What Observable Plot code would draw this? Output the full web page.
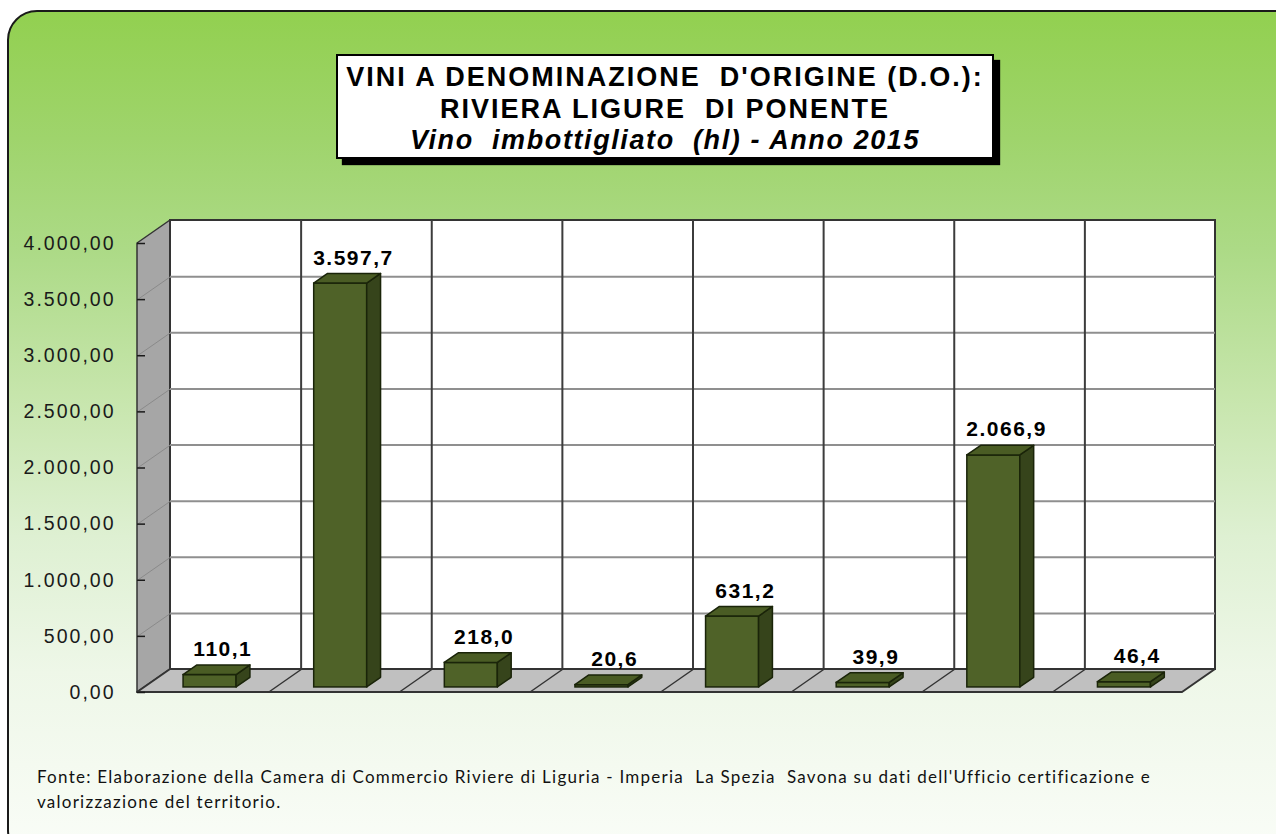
<!DOCTYPE html>
<html>
<head>
<meta charset="utf-8">
<script src="https://cdn.jsdelivr.net/npm/d3@7"></script>
<script src="https://cdn.jsdelivr.net/npm/@observablehq/plot@0.6"></script>
<style>
  html, body { margin: 0; padding: 0; background: #ffffff; }
  body { width: 1276px; height: 834px; overflow: hidden; position: relative; font-family: "Liberation Sans", Arial, sans-serif; }
  #card {
    position: absolute; left: 7px; top: 10px; width: 1300px; height: 850px; box-sizing: border-box;
    border: 2px solid #1a1a1a; border-radius: 30px;
    background: linear-gradient(to bottom, #92d050 0%, #9fd46c 15%, #acda86 28%, #c6e5ab 45%, #def0d2 62%, #eef7e8 78%, #fafdf8 100%);
  }
  #title {
    position: absolute; left: 336px; top: 54px; width: 658px; height: 105px; box-sizing: border-box;
    border: 2px solid #000; background: #fff; box-shadow: 6px 6px 1px #000;
    text-align: center; font-weight: bold; font-size: 27px; line-height: 31.5px; padding-top: 6px;
    color: #000; letter-spacing: 2px; white-space: nowrap;
  }
  #title .sub { font-style: italic; letter-spacing: 1.6px; }
  #chart { position: absolute; left: 0; top: 200px; }
  #caption {
    position: absolute; left: 37px; top: 764px; font-family: Lato, "Open Sans", sans-serif; font-size: 17px;
    line-height: 25px; color: #111; white-space: nowrap; letter-spacing: 1.25px;
  }
  #chart g[aria-label="y-axis tick label"] text { letter-spacing: 2px; }
  #chart g[aria-label="text"] text { letter-spacing: 1.5px; }
</style>
</head>
<body>
<div id="card"></div>
<div id="title">VINI A DENOMINAZIONE&nbsp; D'ORIGINE (D.O.):<br>RIVIERA LIGURE&nbsp; DI PONENTE<br><span class="sub">Vino&nbsp; imbottigliato&nbsp; (hl) - Anno 2015</span></div>
<div id="chart"></div>
<div id="caption">Fonte: Elaborazione della Camera di Commercio Riviere di Liguria - Imperia&nbsp; La Spezia&nbsp; Savona su dati dell'Ufficio certificazione e<br>valorizzazione del territorio.</div>
<script>
// ---- data ----
const categories = ["1", "2", "3", "4", "5", "6", "7", "8"];
const values = [110.1, 3597.7, 218.0, 20.6, 631.2, 39.9, 2066.9, 46.4];
const yTicks = [0, 500, 1000, 1500, 2000, 2500, 3000, 3500, 4000];

// ---- layout / style constants ----
const W = 1276, H = 520, mL = 137, mR = 94, mT = 43, mB = 28;
const yMax = 4000;
const n = categories.length;
const pxX = (W - mL - mR) / n;       // pixels per category
const pxY = (H - mT - mB) / yMax;    // pixels per unit
const dX = 33 / pxX, dY = 23 / pxY;  // wall depth in data units
const fX = 0.22 * dX, fY = 0.22 * dY; // bar front offset
const bX = 0.42 * dX, bY = 0.42 * dY; // bar depth
const BW = 53 / pxX;                  // bar width

const it = d3.formatLocale({decimal: ",", thousands: ".", grouping: [3], currency: ["€", ""]});
const fmt1 = it.format(",.1f");
const fmt2 = it.format(",.2f");

const bars = values.map((v, i) => ({
  i, v,
  x1: i + 0.5 - BW / 2 + fX, x2: i + 0.5 + BW / 2 + fX,
  y0: fY, y1: v + fY
}));
const sides = bars.flatMap(b => [
  {i: b.i, x: b.x2, y1: b.y0, y2: b.y1},
  {i: b.i, x: b.x2 + bX, y1: b.y0 + bY, y2: b.y1 + bY}
]);
const tops = bars.flatMap(b => [
  {i: b.i, y: b.y1, x1: b.x1, x2: b.x2},
  {i: b.i, y: b.y1 + bY, x1: b.x1 + bX, x2: b.x2 + bX}
]);

const inner = d3.range(1, n);

const chart = Plot.plot({
  width: W, height: H,
  marginLeft: mL, marginRight: mR, marginTop: mT, marginBottom: mB,
  x: {domain: [0, n], axis: null},
  y: {domain: [0, yMax], axis: null},
  style: {fontFamily: "'Liberation Sans', Arial, sans-serif", fontSize: "19.5px", background: "transparent", overflow: "visible"},
  marks: [
    // left side wall
    Plot.areaY([{x: 0, y1: 0, y2: yMax}, {x: dX, y1: dY, y2: yMax + dY}],
      {x: "x", y1: "y1", y2: "y2", fill: "#a6a6a6", stroke: "#333", strokeWidth: 1.5}),
    // back wall
    Plot.rect([{x1: dX, x2: n + dX, y1: dY, y2: yMax + dY}],
      {x1: "x1", x2: "x2", y1: "y1", y2: "y2", fill: "#ffffff", stroke: "#333", strokeWidth: 2}),
    // back wall horizontal grid
    Plot.ruleY(yTicks.slice(1, -1), {y: d => d + dY, x1: dX, x2: n + dX, stroke: "#8f8f8f", strokeWidth: 2}),
    // side wall grid
    Plot.link(yTicks.slice(1, -1), {x1: 0, y1: d => d, x2: dX, y2: d => d + dY, stroke: "#8a8a8a", strokeWidth: 1}),
    // back wall vertical dividers
    Plot.ruleX(inner, {x: d => d + dX, y1: dY, y2: yMax + dY, stroke: "#3c3c3c", strokeWidth: 2}),
    // floor
    Plot.areaX([{y: 0, x1: 0, x2: n}, {y: dY, x1: dX, x2: n + dX}],
      {y: "y", x1: "x1", x2: "x2", fill: "#c0c0c0", stroke: "#333", strokeWidth: 2}),
    // floor dividers
    Plot.link(inner, {x1: d => d, y1: 0, x2: d => d + dX, y2: dY, stroke: "#333", strokeWidth: 1.5}),
    // bars
    Plot.rect(bars, {x1: "x1", x2: "x2", y1: "y0", y2: "y1", fill: "#4f6228", stroke: "#1a2409", strokeWidth: 1.5}),
    Plot.areaY(sides, {x: "x", y1: "y1", y2: "y2", z: "i", fill: "#36441b", stroke: "#1a2409", strokeWidth: 1.5}),
    Plot.areaX(tops, {y: "y", x1: "x1", x2: "x2", z: "i", fill: "#4a5c24", stroke: "#1a2409", strokeWidth: 1.5}),
    // value labels
    Plot.text(bars, {x: d => d.i + 0.5, y: "v", text: d => fmt1(d.v), dx: 20, dy: -24, lineAnchor: "bottom",
      fontWeight: "bold", fontSize: 21, fill: "#000"}),
    // y axis
    Plot.axisY(yTicks, {tickFormat: fmt2, tickSize: -8, tickPadding: 30, color: "#1a1a1a", strokeWidth: 1.5, fontSize: 19.5})
  ]
});
document.getElementById("chart").appendChild(chart);
</script>
</body>
</html>
